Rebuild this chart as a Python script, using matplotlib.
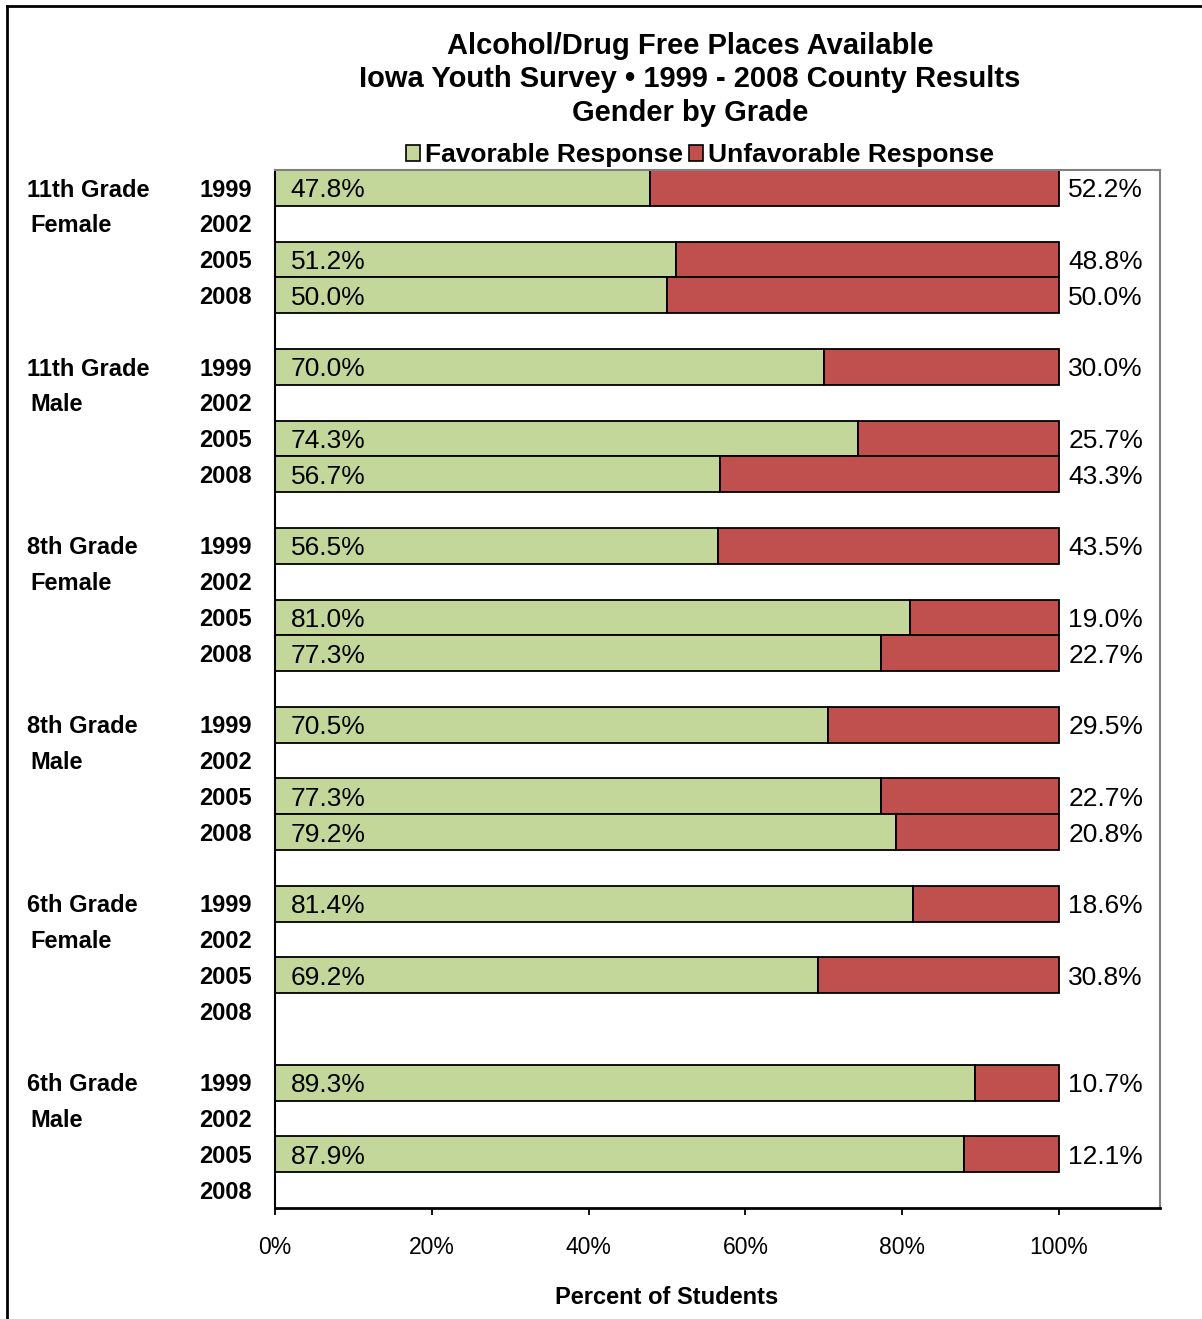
import matplotlib.pyplot as plt
from matplotlib.lines import Line2D
from matplotlib.patches import Patch
import matplotlib.transforms as mtransforms

plt.rcParams['font.family'] = ['Liberation Sans', 'DejaVu Sans']

# groups of four survey years, shown top to bottom
groups = ["11th Grade", "11th Grade", "8th Grade", "8th Grade", "6th Grade", "6th Grade"]
genders = ["Female", "Male", "Female", "Male", "Female", "Male"]
years = ["1999", "2002", "2005", "2008"]

# None = no data for that year
favorable = [
    [47.8, None, 51.2, 50.0],
    [70.0, None, 74.3, 56.7],
    [56.5, None, 81.0, 77.3],
    [70.5, None, 77.3, 79.2],
    [81.4, None, 69.2, None],
    [89.3, None, 87.9, None],
]
unfavorable = [
    [52.2, None, 48.8, 50.0],
    [30.0, None, 25.7, 43.3],
    [43.5, None, 19.0, 22.7],
    [29.5, None, 22.7, 20.8],
    [18.6, None, 30.8, None],
    [10.7, None, 12.1, None],
]
xticks = [0, 20, 40, 60, 80, 100]

GREEN = "#C4D79B"
RED = "#C0504D"

fig = plt.figure(figsize=(12.02, 13.19), dpi=100)
ax = fig.add_axes([275 / 1202, 111 / 1319, 885 / 1202, 1038 / 1319])

slot = 0
for g in range(len(groups)):
    for k, yr in enumerate(years):
        y = slot + k
        fav = favorable[g][k]
        unf = unfavorable[g][k]
        if fav is not None:
            ax.barh(y, fav, height=1.0, color=GREEN, edgecolor="black", linewidth=1.3)
            ax.barh(y, unf, left=fav, height=1.0, color=RED, edgecolor="black", linewidth=1.3)
            ax.text(2.0, y + 0.07, f"{fav:.1f}%", va="center", ha="left", fontsize=19)
            ax.text(101.2, y + 0.07, f"{unf:.1f}%", va="center", ha="left", fontsize=19)
    slot += 5

ax.set_xlim(0, 885 / 7.84)
ax.set_ylim(slot - 1.5, -0.5)
ax.set_xticks(xticks)
ax.set_xticklabels([f"{t}%" for t in xticks], fontsize=16.5)
ax.tick_params(axis="x", length=5, width=1.3, pad=15.5)
ax.set_yticks([])
ax.spines["left"].set_linewidth(1.5)
ax.spines["bottom"].set_linewidth(2)
for s in ("top", "right"):
    ax.spines[s].set_color("#808080")
    ax.spines[s].set_linewidth(1.5)

# row labels outside the plot area
trans = mtransforms.blended_transform_factory(fig.transFigure, ax.transData)
for g in range(len(groups)):
    base = g * 5 + 0.06
    ax.text(27 / 1202, base, groups[g], transform=trans, va="center", ha="left",
            fontsize=17, fontweight="bold")
    ax.text(30 / 1202, base + 1, genders[g], transform=trans, va="center", ha="left",
            fontsize=17, fontweight="bold")
    for k, yr in enumerate(years):
        ax.text(252 / 1202, base + k, yr, transform=trans, va="center", ha="right",
                fontsize=17, fontweight="bold")

fig.text(0.574, 1 - 46 / 1319, "Alcohol/Drug Free Places Available", ha="center", va="center",
         fontsize=21, fontweight="bold")
fig.text(0.574, 1 - 79 / 1319, "Iowa Youth Survey \u2022 1999 - 2008 County Results", ha="center",
         va="center", fontsize=21, fontweight="bold")
fig.text(0.574, 1 - 113 / 1319, "Gender by Grade", ha="center", va="center",
         fontsize=21, fontweight="bold")

handles = [Patch(facecolor=GREEN, edgecolor="black", linewidth=1.2),
           Patch(facecolor=RED, edgecolor="black", linewidth=1.2)]
fig.legend(handles, ["Favorable Response", "Unfavorable Response"], loc="center",
           bbox_to_anchor=(700 / 1202, 1 - 155 / 1319), ncol=2, frameon=False,
           handlelength=0.55, handleheight=0.55, handletextpad=0.2, columnspacing=0.2,
           borderpad=0, prop={"size": 19, "weight": "bold"})

fig.text(667 / 1202, 1 - 1297 / 1319, "Percent of Students", ha="center", va="center",
         fontsize=17, fontweight="bold")

# outer frame
fig.add_artist(Line2D([7 / 1202, 7 / 1202], [0, 1 - 6 / 1319], transform=fig.transFigure,
                      color="black", linewidth=2))
fig.add_artist(Line2D([7 / 1202, 1], [1 - 6 / 1319, 1 - 6 / 1319], transform=fig.transFigure,
                      color="black", linewidth=2))

fig.savefig("out.png", dpi=100)
